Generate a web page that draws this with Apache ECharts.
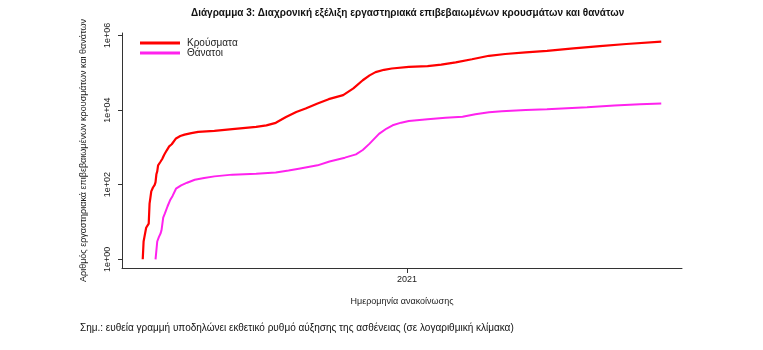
<!DOCTYPE html>
<html>
<head>
<meta charset="utf-8">
<script src="https://cdn.jsdelivr.net/npm/echarts@6/dist/echarts.min.js"></script>
<style>
  html, body { margin: 0; padding: 0; background: #ffffff; }
  #chart { width: 763px; height: 350px; }
</style>
</head>
<body>
<div id="chart"></div>
<script>
// Cumulative laboratory-confirmed cases (date of announcement)
const caseDates = [
  '2020-02-26','2020-02-27','2020-02-28','2020-03-01','2020-03-03','2020-03-04',
  '2020-03-05','2020-03-06','2020-03-07','2020-03-08','2020-03-09','2020-03-10',
  '2020-03-11','2020-03-12','2020-03-13','2020-03-14','2020-03-15','2020-03-16',
  '2020-03-18','2020-03-20','2020-03-22','2020-03-25','2020-03-28','2020-03-31',
  '2020-04-05','2020-04-10','2020-04-15','2020-04-23','2020-05-01','2020-05-20',
  '2020-06-10','2020-07-08','2020-07-20','2020-07-31','2020-08-12','2020-08-24',
  '2020-09-04','2020-09-18','2020-10-01','2020-10-18','2020-10-30','2020-11-10',
  '2020-11-18','2020-11-25','2020-12-05','2020-12-14','2021-01-03','2021-01-25',
  '2021-02-10','2021-02-27','2021-03-18','2021-04-07','2021-04-26','2021-05-20',
  '2021-06-14','2021-07-15','2021-08-15','2021-09-15','2021-10-26'
];
const caseValues = [
  1, 3, 4, 7, 7, 9,
  31, 45, 66, 73, 84, 89,
  99, 117, 190, 228, 331, 352,
  418, 495, 624, 821, 1061, 1212,
  1735, 2011, 2192, 2400, 2591, 2780,
  3080, 3540, 3900, 4550, 6500, 8900,
  11000, 15000, 19600, 25100, 38000, 63000,
  85000, 104000, 120000, 130000, 143000, 151000,
  165000, 190000, 230000, 285000, 318000, 350000,
  385000, 450000, 520000, 590000, 680000
];

// Cumulative deaths
const deathDates = [
  '2020-03-12','2020-03-14','2020-03-16','2020-03-18','2020-03-19','2020-03-20',
  '2020-03-21','2020-03-23','2020-03-26','2020-03-29','2020-04-01','2020-04-05',
  '2020-04-11','2020-04-18','2020-04-27','2020-05-08','2020-05-20','2020-06-10',
  '2020-07-08','2020-07-31','2020-08-15','2020-08-27','2020-09-18','2020-10-02',
  '2020-10-20','2020-11-02','2020-11-10','2020-11-18','2020-11-29','2020-12-08',
  '2020-12-15','2020-12-25','2021-01-03','2021-01-25','2021-02-15','2021-03-07',
  '2021-03-22','2021-04-07','2021-04-22','2021-05-20','2021-06-14','2021-07-31',
  '2021-09-01','2021-10-01','2021-10-26'
];
const deathValues = [
  1, 3, 4, 5, 6, 6,
  13, 17, 26, 38, 50, 78,
  96, 113, 136, 151, 167, 186,
  196, 212, 240, 269, 330, 420,
  530, 650, 850, 1260, 2300, 3200,
  3900, 4600, 5100, 5700, 6200, 6600,
  7700, 8700, 9300, 10000, 10500, 11900,
  13200, 14300, 15100
];

// Axis ticks
const yTickExponents = [0, 2, 4, 6];
const xTickDates = ['2021-01-01'];

const seriesNames = ['Κρούσματα', 'Θάνατοι'];
const titleText = 'Διάγραμμα 3: Διαχρονική εξέλιξη εργαστηριακά επιβεβαιωμένων κρουσμάτων και θανάτων';
const yAxisName = 'Αριθμός εργαστηριακά επιβεβαιωμένων κρουσμάτων και θανάτων';
const xAxisName = 'Ημερομηνία ανακοίνωσης';
const noteText = 'Σημ.: ευθεία γραμμή υποδηλώνει εκθετικό ρυθμό αύξησης της ασθένειας (σε λογαριθμική κλίμακα)';

const ts = d => Date.parse(d + 'T00:00:00Z');
const toPoints = (dates, vals) => dates.map((d, i) => [ts(d), Math.log10(vals[i])]);

// Axis ranges padded by 4% on each side of the data range
const allT = caseDates.concat(deathDates).map(ts);
const tMin = Math.min(...allT), tMax = Math.max(...allT);
const tPad = (tMax - tMin) * 0.04;
const allY = caseValues.concat(deathValues).map(v => Math.log10(v));
const yLo = Math.min(...allY), yHi = Math.max(...allY);
const yPad = (yHi - yLo) * 0.04;

const FONT = '"Liberation Sans", Arial, sans-serif';
const chart = echarts.init(document.getElementById('chart'), null, { renderer: 'canvas' });

chart.setOption({
  backgroundColor: '#ffffff',
  animation: false,
  title: {
    text: titleText,
    left: 186,
    top: 3,
    textStyle: { fontFamily: FONT, fontWeight: 'bold', fontSize: 10, color: '#111' }
  },
  legend: {
    orient: 'vertical',
    left: 135,
    top: 33,
    itemWidth: 40,
    itemHeight: 10,
    itemGap: 0,
    icon: 'path://M0,3.6L40,3.6L40,6.4L0,6.4Z',
    textStyle: { fontFamily: FONT, fontSize: 10, color: '#222', lineHeight: 10, padding: [0, 0, 0, 2] },
    data: seriesNames
  },
  graphic: [{
    type: 'text',
    left: 80,
    top: 323,
    style: { text: noteText, fontFamily: FONT, fontSize: 10, fill: '#111' }
  }],
  grid: { left: 122, right: 81, top: 33, bottom: 82 },
  xAxis: {
    type: 'value',
    min: tMin - tPad,
    max: tMax + tPad,
    name: xAxisName,
    nameLocation: 'middle',
    nameGap: 29,
    nameTextStyle: { fontFamily: FONT, fontSize: 9, color: '#222' },
    axisLine: { show: true, onZero: false, lineStyle: { color: '#333', width: 1 } },
    axisTick: { show: true, length: 5, lineStyle: { color: '#333' }, customValues: xTickDates.map(ts) },
    axisLabel: {
      fontFamily: FONT, fontSize: 9, color: '#222', margin: 7,
      customValues: xTickDates.map(ts),
      formatter: v => String(new Date(v).getUTCFullYear())
    },
    splitLine: { show: false }
  },
  yAxis: {
    type: 'value',
    min: yLo - yPad,
    max: yHi + yPad,
    name: yAxisName,
    nameLocation: 'middle',
    nameGap: 34,
    nameRotate: 90,
    nameTextStyle: { fontFamily: FONT, fontSize: 9, color: '#222' },
    axisLine: { show: true, onZero: false, lineStyle: { color: '#333', width: 1 } },
    axisTick: { show: true, length: 4, lineStyle: { color: '#333' }, customValues: yTickExponents },
    axisLabel: {
      fontFamily: FONT, fontSize: 9, color: '#222', rotate: 90, margin: 10,
      customValues: yTickExponents,
      formatter: v => '1e+0' + Math.round(v)
    },
    splitLine: { show: false }
  },
  series: [
    {
      name: seriesNames[0],
      type: 'line',
      data: toPoints(caseDates, caseValues),
      symbol: 'none',
      lineStyle: { color: '#ff0000', width: 2.2 },
      itemStyle: { color: '#ff0000' }
    },
    {
      name: seriesNames[1],
      type: 'line',
      data: toPoints(deathDates, deathValues),
      symbol: 'none',
      lineStyle: { color: '#ff22ee', width: 2 },
      itemStyle: { color: '#ff22ee' }
    }
  ]
});
</script>
</body>
</html>
